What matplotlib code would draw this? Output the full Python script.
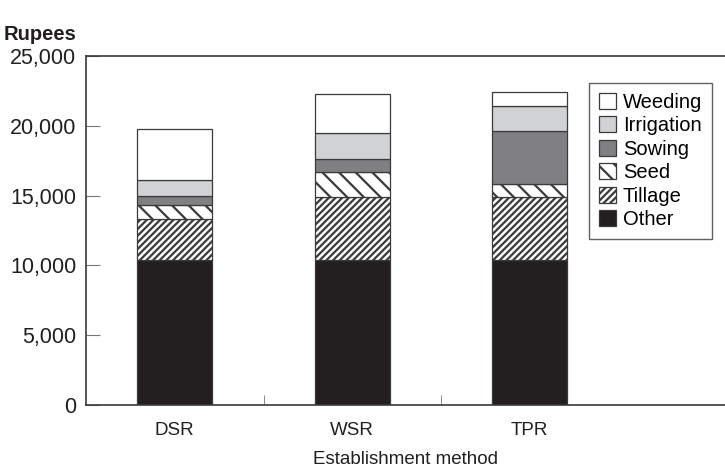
import numpy as np
import matplotlib
matplotlib.use('Agg')
import matplotlib.pyplot as plt
from matplotlib.ticker import FuncFormatter

plt.rcParams['font.family'] = ['Liberation Sans', 'DejaVu Sans']
plt.rcParams['hatch.linewidth'] = 1.6

# data (rupees)
methods = ['DSR', 'WSR', 'TPR']
other = [10400, 10400, 10400]
tillage = [2900, 4500, 4500]
seed = [1000, 1800, 900]
sowing = [650, 950, 3800]
irrigation = [1150, 1850, 1800]
weeding = [3700, 2750, 1000]

layers = [
    ('Other', other, '#231f20', ''),
    ('Tillage', tillage, 'white', '/////'),
    ('Seed', seed, 'white', '\\\\'),
    ('Sowing', sowing, '#808083', ''),
    ('Irrigation', irrigation, '#d1d2d4', ''),
    ('Weeding', weeding, 'white', ''),
]

fig = plt.figure(figsize=(7.25, 4.72), dpi=100)
ax = fig.add_axes([86/725, 67/472, (725-86)/725, 349/472])

x = np.arange(len(methods))
bottom = np.zeros(len(methods))
handles = []
for name, vals, col, hat in layers:
    b = ax.bar(x, vals, 0.42, bottom=bottom, color=col, hatch=hat,
               edgecolor='#3a3a3a', linewidth=0.9, label=name)
    handles.append(b)
    bottom += np.array(vals)

ax.set_xlim(-0.5, 3.1)
ax.set_ylim(0, 25000)
ax.set_yticks(np.arange(0, 25001, 5000))
ax.yaxis.set_major_formatter(FuncFormatter(lambda v, p: f'{int(v):,}'))
ax.set_xticks(x)
ax.set_xticklabels(methods)
ax.set_xticks([0.5, 1.5], minor=True)
ax.tick_params(axis='x', which='major', length=0, labelsize=13.5, pad=12, colors='#231f20')
ax.tick_params(axis='x', which='minor', direction='in', length=7, color='#777777')
ax.tick_params(axis='y', direction='in', length=10, labelsize=15.5, pad=7)
ax.tick_params(axis='y', colors='#777777', labelcolor='#231f20')

for s in ['left', 'top', 'bottom']:
    ax.spines[s].set_color('#3a3a3a')
    ax.spines[s].set_linewidth(1.2)
ax.spines['right'].set_visible(False)

ax.set_xlabel('Establishment method', fontsize=13.5, color='#231f20', labelpad=9)
fig.text(4/725, 1 - 34/472, 'Rupees', fontsize=14.5, fontweight='bold', color='#231f20', va='center')

leg = ax.legend(handles[::-1], [l[0] for l in layers][::-1], loc='upper right',
                bbox_to_anchor=(0.98, 0.923), borderaxespad=0, fontsize=14.5, frameon=True,
                fancybox=False, handlelength=0.85, handleheight=0.85, handletextpad=0.35,
                labelspacing=0.22, borderpad=0.5, edgecolor='#3a3a3a')
leg.get_frame().set_linewidth(1.0)

fig.savefig('out.png', dpi=100)
